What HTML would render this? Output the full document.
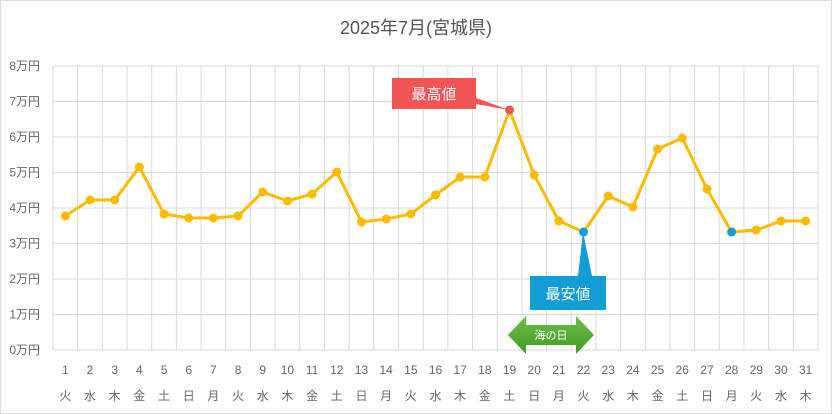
<!DOCTYPE html><html><head><meta charset="utf-8"><style>body{margin:0;background:#fff}svg{display:block;font-family:"Liberation Sans","Noto Sans CJK JP",sans-serif}</style></head><body>
<svg width="832" height="414" viewBox="0 0 832 414">
<rect x="0.5" y="0.5" width="831" height="413" fill="#fff" stroke="#ddd"/>
<text x="416" y="34" font-size="18" fill="#555" text-anchor="middle">2025年7月(宮城県)</text>
<g id="grid" stroke="#d9d9d9" stroke-width="1"></g>
<g id="lab" font-size="12" fill="#666"></g>
<polygon points="392,78 476,78 476,98 509,110 476,104 476,109 392,109" fill="#f25454"/>
<text x="434" y="99" font-size="15" fill="#fff" text-anchor="middle">最高値</text>
<polygon points="583,232 592,276 606,276 606,310 530,310 530,276 578,276" fill="#139dd6"/>
<text x="568" y="299" font-size="15" fill="#fff" text-anchor="middle">最安値</text>
<defs><linearGradient id="g" x1="0" y1="0" x2="0" y2="1"><stop offset="0" stop-color="#6cc04a"/><stop offset="1" stop-color="#3f9a22"/></linearGradient></defs>
<polygon points="508,335 526,316 526,325 576,325 576,316 594,335 576,354 576,345 526,345 526,354" fill="url(#g)"/>
<text x="551" y="339" font-size="11" fill="#fff" text-anchor="middle">海の日</text>
<polyline id="ln" fill="none" stroke="#fdbb00" stroke-width="3" stroke-linejoin="round"/>
<g id="pts"></g>
</svg>
<script>
var ns="http://www.w3.org/2000/svg";function el(p,t,a,txt){var e=document.createElementNS(ns,t);for(var k in a)e.setAttribute(k,a[k]);if(txt)e.textContent=txt;document.getElementById(p).appendChild(e);return e}
var L=53,R=818,T=66,B=350,W=(R-L)/31;
for(var i=0;i<=8;i++){var y=B-i*35.5;el("grid","line",{x1:L,x2:R,y1:y,y2:y});el("lab","text",{x:40,y:y+4,"text-anchor":"end"},i+"万円");}
for(var i=0;i<=31;i++){var x=L+i*W;el("grid","line",{x1:x,x2:x,y1:T,y2:B});}
var ys=[216,200,200,167,214,218,218,216,192,201,194,172,222,219,214,195,177,177,110,175,221,232,196,207,149,138,189,232,230,221,221];
var wd="火水木金土日月";var pts=[];
for(var i=0;i<31;i++){var x=L+W*(i+0.5);pts.push(x+","+ys[i]);
el("lab","text",{x:x,y:374,"text-anchor":"middle"},String(i+1));el("lab","text",{x:x,y:400,"text-anchor":"middle"},wd[i%7]);}
document.getElementById("ln").setAttribute("points",pts.join(" "));
for(var i=0;i<31;i++){var c=i==18?"#f25454":(i==21||i==27)?"#139dd6":"#fdbb00";el("pts","circle",{cx:L+W*(i+0.5),cy:ys[i],r:4.5,fill:c});}
</script></body></html>
